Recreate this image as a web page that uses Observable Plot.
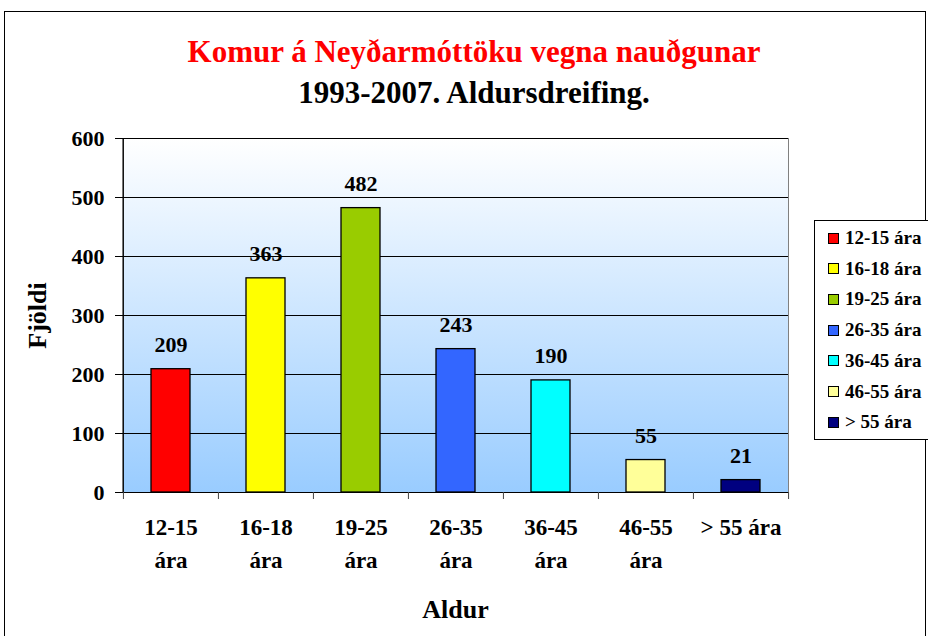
<!DOCTYPE html>
<html>
<head>
<meta charset="utf-8">
<script src="https://cdn.jsdelivr.net/npm/d3@7"></script>
<script src="https://cdn.jsdelivr.net/npm/@observablehq/plot@0.6"></script>
<style>
  html, body { margin: 0; padding: 0; background: #fff; }
  #wrap { position: relative; width: 928px; height: 636px; overflow: hidden; background: #fff;
          font-family: "Liberation Serif", "Times New Roman", serif; font-weight: bold; }
  #border { position: absolute; left: 4px; top: 11px; width: 922px; height: 700px; border: 1.5px solid #000; box-sizing: border-box; }
  .ttl { position: absolute; left: 124px; width: 700px; text-align: center; line-height: 1; white-space: nowrap; }
  #chart { position: absolute; left: 0; top: 0; }
  #legend { position: absolute; left: 814px; top: 220px; width: 140px; height: 220px; border: 1px solid #000; background: #fff; box-sizing: border-box; }
  .li { position: absolute; left: 13px; height: 20px; display: flex; align-items: center; font-size: 19px; white-space: nowrap; }
  .sw { width: 9px; height: 9px; border: 1px solid #000; margin-right: 6px; }
</style>
</head>
<body>
<div id="wrap">
  <div id="border"></div>
  <div id="chart"></div>
  <div class="ttl" id="t1" style="top:36px;font-size:31px;color:#FF0000;">Komur á Neyðarmóttöku vegna nauðgunar</div>
  <div class="ttl" id="t2" style="top:77px;font-size:31px;color:#000;">1993-2007. Aldursdreifing.</div>
  <div id="legend"></div>
</div>
<script>
const categories = ["12-15 ára", "16-18 ára", "19-25 ára", "26-35 ára", "36-45 ára", "46-55 ára", "> 55 ára"];
const values = [209, 363, 482, 243, 190, 55, 21];
const colors = ["#FF0000", "#FFFF00", "#99CC00", "#3366FF", "#00FFFF", "#FFFF99", "#000080"];
const tickLabels = ["12-15\nára", "16-18\nára", "19-25\nára", "26-35\nára", "36-45\nára", "46-55\nára", "> 55 ára"];
const yTicks = [0, 100, 200, 300, 400, 500, 600];
const yLabel = "Fjöldi";
const xLabel = "Aldur";

const data = categories.map((c, i) => ({cat: c, value: values[i], color: colors[i], tick: tickLabels[i]}));

const W = 928, H = 636, mL = 122, mR = 140, mT = 138, mB = 144;
const step = (W - mL - mR) / categories.length;

const defs = () => {
  const g = d3.create("svg:g");
  const lg = g.append("defs").append("linearGradient")
    .attr("id", "bg").attr("x1", 0).attr("y1", 0).attr("x2", 0).attr("y2", 1);
  lg.append("stop").attr("offset", "0%").attr("stop-color", "#FFFFFF");
  lg.append("stop").attr("offset", "100%").attr("stop-color", "#99CCFF");
  return g.node();
};

const chart = Plot.plot({
  width: W, height: H,
  marginTop: mT, marginBottom: mB, marginLeft: mL, marginRight: mR,
  x: {domain: categories, paddingInner: 0.59, paddingOuter: 0.295, axis: null},
  y: {domain: [0, 600], axis: null},
  color: {type: "identity"},
  style: {fontFamily: "'Liberation Serif', 'Times New Roman', serif", fontWeight: "bold", fontSize: "22px", background: "transparent", color: "#000"},
  marks: [
    defs,
    Plot.frame({fill: "url(#bg)", stroke: "#808080"}),
    Plot.ruleY(yTicks, {stroke: "#000", strokeWidth: 1}),
    Plot.ruleX([categories[0]], {x: d => d, dx: -step / 2, stroke: "#000", strokeWidth: 1}),
    Plot.barY(data, {x: "cat", y: "value", fill: "color", stroke: "#000", strokeWidth: 1.3}),
    Plot.axisY({ticks: yTicks, tickSize: 7, tickPadding: 11, fontSize: 22, fontWeight: "bold", label: null, stroke: "#000"}),
    Plot.ruleX(categories, {x: d => d, y1: 0, y2: 0, dx: -step / 2, insetBottom: -7, stroke: "#444"}),
    Plot.ruleX([categories[categories.length - 1]], {x: d => d, y1: 0, y2: 0, dx: step / 2, insetBottom: -7, stroke: "#444"}),
    Plot.text(data, {x: "cat", y: 0, text: "tick", dy: 20, lineAnchor: "top", lineHeight: 1.4, fontSize: 23, fontWeight: "bold", fill: "#000"}),
    Plot.text(data, {x: "cat", y: "value", text: d => String(d.value), dy: -17, lineAnchor: "bottom", fontSize: 22, fontWeight: "bold", fill: "#000"}),
    Plot.text([yLabel], {frameAnchor: "left", text: d => d, dx: -85, rotate: -90, textAnchor: "middle", lineAnchor: "middle", fontSize: 26, fontWeight: "bold", fill: "#000"}),
    Plot.text([xLabel], {frameAnchor: "bottom", text: d => d, dy: 125, lineAnchor: "bottom", fontSize: 26, fontWeight: "bold", fill: "#000"})
  ]
});
document.getElementById("chart").appendChild(chart);

const legend = document.getElementById("legend");
categories.forEach((c, i) => {
  const row = document.createElement("div");
  row.className = "li";
  row.style.top = (17 + i * 30.7 - 10) + "px";
  const sw = document.createElement("div");
  sw.className = "sw";
  sw.style.background = colors[i];
  const tx = document.createElement("span");
  tx.textContent = c;
  row.appendChild(sw);
  row.appendChild(tx);
  legend.appendChild(row);
});
</script>
</body>
</html>
